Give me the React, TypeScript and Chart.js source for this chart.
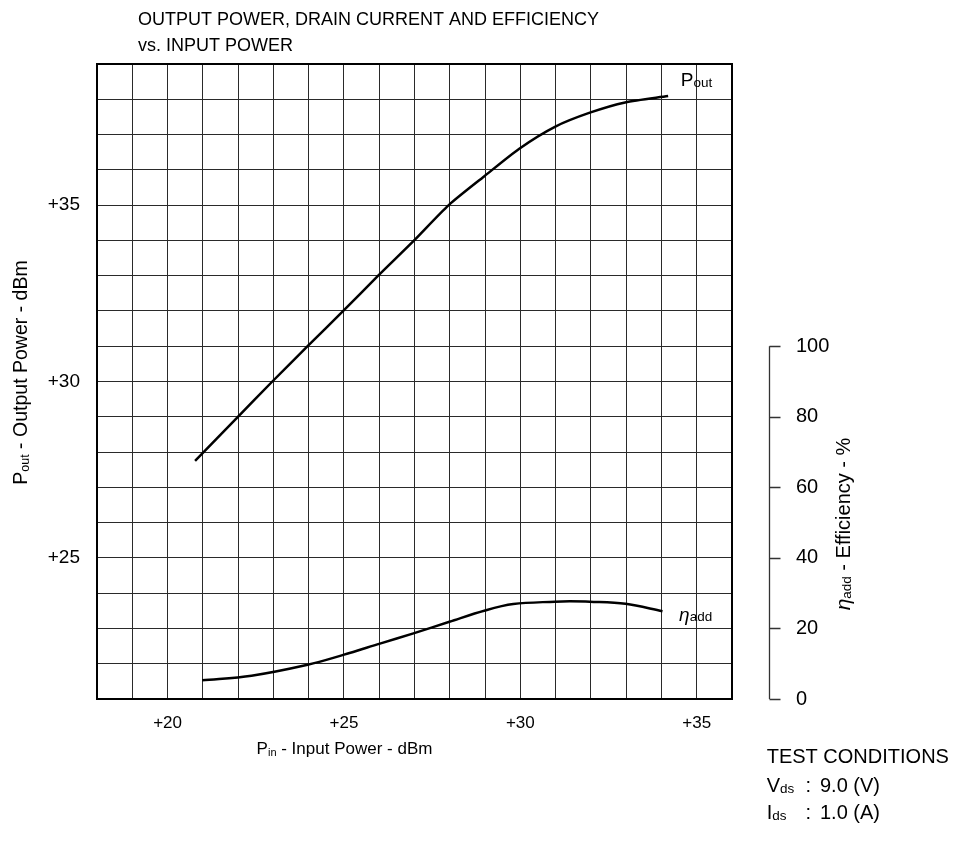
import React, { useEffect, useRef } from 'react';
import { Chart, registerables } from 'chart.js';

Chart.register(...registerables);

// ---- data ----
const pinForPout = [20.78, 21.98, 22.97, 23.97, 24.98, 25.97, 26.99, 27.97, 28.98, 29.97, 30.98, 31.97, 32.97, 34.19];
const poutValues = [27.75, 28.98, 30.0, 31.0, 32.0, 33.0, 34.0, 35.0, 35.82, 36.6, 37.22, 37.62, 37.91, 38.09];
const pinForEff = [20.98, 22.38, 23.97, 24.98, 26.02, 26.97, 27.99, 29.0, 29.8, 30.98, 31.4, 31.97, 32.98, 34.03];
const effValues = [5.3, 6.6, 9.7, 12.5, 15.7, 18.6, 21.9, 25.1, 26.9, 27.6, 27.7, 27.6, 27.0, 24.9];

const xTickLabels = [20, 25, 30, 35];
const yTickLabels = [25, 30, 35];
const effTickLabels = [0, 20, 40, 60, 80, 100];

const titleLines = ['OUTPUT POWER, DRAIN CURRENT AND EFFICIENCY', 'vs. INPUT POWER'];
const testConditions = [
  { sym: 'V', sub: 'ds', value: '9.0 (V)' },
  { sym: 'I', sub: 'ds', value: '1.0 (A)' },
];

// ---- axis ranges ----
const X_MIN = 18, X_MAX = 36;
const Y_MIN = 21, Y_MAX = 39;
const EFF_MIN = 0, EFF_MAX = 180;

const FONT = "'Liberation Sans', Arial, Helvetica, sans-serif";
const GRID = '#2a2a2a';

type Part = { t: string; size: number; dy?: number; italic?: boolean };

function setFont(ctx: CanvasRenderingContext2D, p: Part) {
  ctx.font = `${p.italic ? 'italic ' : ''}${p.size}px ${FONT}`;
}
function partsWidth(ctx: CanvasRenderingContext2D, parts: Part[]) {
  let w = 0;
  for (const p of parts) {
    setFont(ctx, p);
    w += ctx.measureText(p.t).width;
  }
  return w;
}
function drawParts(ctx: CanvasRenderingContext2D, parts: Part[], x: number, y: number) {
  let cx = x;
  for (const p of parts) {
    setFont(ctx, p);
    ctx.fillText(p.t, cx, y + (p.dy || 0));
    cx += ctx.measureText(p.t).width;
  }
}

const noPad = (s: any) => {
  s.paddingTop = 0;
  s.paddingBottom = 0;
  s.paddingLeft = 0;
  s.paddingRight = 0;
};

const decorPlugin = {
  id: 'decor',
  afterDraw(chart: any) {
    const ctx: CanvasRenderingContext2D = chart.ctx;
    const area = chart.chartArea;
    const xs = chart.scales.x;
    const ys = chart.scales.y;
    const es = chart.scales.y2;
    ctx.save();
    ctx.fillStyle = '#000';
    ctx.textAlign = 'left';
    ctx.textBaseline = 'alphabetic';

    // title
    ctx.font = `18px ${FONT}`;
    ctx.fillText(titleLines[0], 130, 17);
    ctx.fillText(titleLines[1], 130, 43);

    // plot frame
    ctx.strokeStyle = '#000';
    ctx.lineWidth = 2;
    ctx.strokeRect(area.left, area.top, area.right - area.left, area.bottom - area.top);

    // x axis title
    const xTitle: Part[] = [
      { t: 'P', size: 17 },
      { t: 'in', size: 11, dy: 2 },
      { t: ' - Input Power - dBm', size: 17 },
    ];
    const xw = partsWidth(ctx, xTitle);
    drawParts(ctx, xTitle, 336.5 - xw / 2, 746);

    // left axis title (rotated)
    const yTitle: Part[] = [
      { t: 'P', size: 19.5 },
      { t: 'out', size: 12.5, dy: 2 },
      { t: ' - Output Power - dBm', size: 19.5 },
    ];
    ctx.save();
    ctx.translate(18.7, 364.5);
    ctx.rotate(-Math.PI / 2);
    drawParts(ctx, yTitle, -partsWidth(ctx, yTitle) / 2, 0);
    ctx.restore();

    // right efficiency axis (bracket line + ticks)
    const axX = area.right + 37.5;
    const yTop = es.getPixelForValue(effTickLabels[effTickLabels.length - 1]);
    const yBot = es.getPixelForValue(effTickLabels[0]);
    ctx.strokeStyle = '#333';
    ctx.lineWidth = 1.3;
    ctx.beginPath();
    ctx.moveTo(axX, yTop);
    ctx.lineTo(axX, yBot);
    for (const v of effTickLabels) {
      const py = Math.round(es.getPixelForValue(v)) + 0.5;
      ctx.moveTo(axX, py);
      ctx.lineTo(axX + 11, py);
    }
    ctx.stroke();

    // right axis title (rotated)
    const eTitle: Part[] = [
      { t: 'η', size: 21, italic: true },
      { t: 'add', size: 13.5, dy: 1 },
      { t: ' - Efficiency - %', size: 20 },
    ];
    ctx.save();
    ctx.translate(842, 516);
    ctx.rotate(-Math.PI / 2);
    drawParts(ctx, eTitle, -partsWidth(ctx, eTitle) / 2, 0);
    ctx.restore();

    // curve labels
    drawParts(
      ctx,
      [
        { t: 'P', size: 19 },
        { t: 'out', size: 13.5, dy: 1 },
      ],
      xs.getPixelForValue(34.55),
      ys.getPixelForValue(38.38)
    );
    drawParts(
      ctx,
      [
        { t: 'η', size: 19, italic: true },
        { t: 'add', size: 13.5 },
      ],
      xs.getPixelForValue(34.5),
      ys.getPixelForValue(23.2)
    );

    // test conditions
    ctx.font = `20px ${FONT}`;
    ctx.fillText('TEST CONDITIONS', 758.7, 755.3);
    const baselines = [783.7, 810.5];
    testConditions.forEach((tc, i) => {
      drawParts(
        ctx,
        [
          { t: tc.sym, size: 20 },
          { t: tc.sub, size: 13.5, dy: 1 },
        ],
        758.7,
        baselines[i]
      );
      ctx.font = `20px ${FONT}`;
      ctx.fillText(':', 797.5, baselines[i]);
      ctx.fillText(tc.value, 812, baselines[i]);
    });

    ctx.restore();
  },
};

export default function App() {
  const canvasRef = useRef<HTMLCanvasElement | null>(null);

  useEffect(() => {
    const canvas = canvasRef.current;
    if (!canvas) return;
    const chart = new Chart(canvas, {
      type: 'line',
      data: {
        datasets: [
          {
            label: 'Pout',
            data: pinForPout.map((x, i) => ({ x, y: poutValues[i] })),
            xAxisID: 'x',
            yAxisID: 'y',
            borderColor: '#000',
            borderWidth: 2.5,
            pointRadius: 0,
            tension: 0.25,
            fill: false,
          },
          {
            label: 'ηadd',
            data: pinForEff.map((x, i) => ({ x, y: effValues[i] })),
            xAxisID: 'x',
            yAxisID: 'y2',
            borderColor: '#000',
            borderWidth: 2.5,
            pointRadius: 0,
            tension: 0.35,
            fill: false,
          },
        ],
      },
      options: {
        animation: false,
        responsive: false,
        devicePixelRatio: 1,
        layout: { padding: { top: 56, left: 0, right: 0, bottom: 0 } },
        plugins: {
          legend: { display: false },
          tooltip: { enabled: false },
          title: { display: false },
        },
        scales: {
          x: {
            type: 'linear',
            position: 'bottom',
            min: X_MIN,
            max: X_MAX,
            ticks: {
              stepSize: 1,
              autoSkip: false,
              maxRotation: 0,
              padding: 14,
              color: '#000',
              font: { size: 17, family: FONT },
              callback: (v: any) => (xTickLabels.includes(Number(v)) ? '+' + v : ''),
            },
            grid: {
              color: GRID,
              lineWidth: 1,
              drawTicks: false,
            },
            border: { color: '#000', width: 2 },
            afterFit: (s: any) => {
              s.height = 137;
              noPad(s);
            },
          },
          y: {
            type: 'linear',
            position: 'left',
            min: Y_MIN,
            max: Y_MAX,
            ticks: {
              stepSize: 1,
              autoSkip: false,
              padding: 17,
              color: '#000',
              font: { size: 19, family: FONT },
              callback: (v: any) => (yTickLabels.includes(Number(v)) ? '+' + v : ''),
            },
            grid: {
              color: GRID,
              lineWidth: 1,
              drawTicks: false,
            },
            border: { color: '#000', width: 2 },
            afterFit: (s: any) => {
              s.width = 89;
              noPad(s);
            },
          },
          y2: {
            type: 'linear',
            position: 'right',
            min: EFF_MIN,
            max: EFF_MAX,
            ticks: {
              stepSize: 20,
              autoSkip: false,
              padding: 64,
              color: '#000',
              font: { size: 20, family: FONT },
              callback: (v: any) => (effTickLabels.includes(Number(v)) ? String(v) : ''),
            },
            grid: { display: false, drawTicks: false },
            border: { display: false },
            afterFit: (s: any) => {
              s.width = 229;
              noPad(s);
            },
          },
        },
      } as any,
      plugins: [decorPlugin],
    });
    return () => chart.destroy();
  }, []);

  return (
    <div style={{ width: 953, height: 828 }}>
      <canvas ref={canvasRef} width={953} height={828} style={{ display: 'block' }} />
    </div>
  );
}
